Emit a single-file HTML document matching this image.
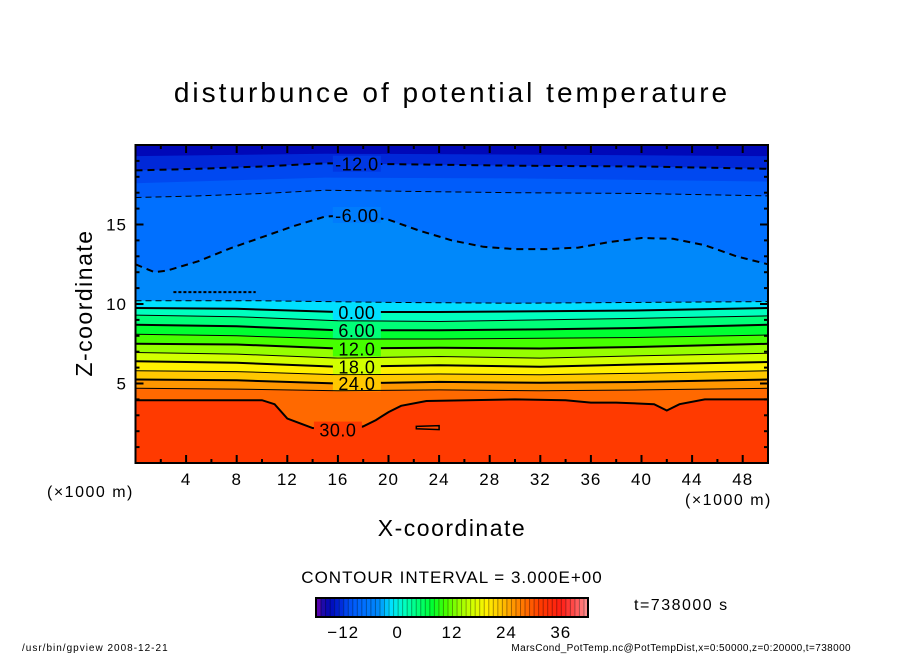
<!DOCTYPE html>
<html><head><meta charset="utf-8">
<style>
html,body{margin:0;padding:0;background:#fff;}
svg{display:block;font-family:"Liberation Sans",sans-serif;}
</style></head>
<body>
<svg id="chart" width="904" height="654" viewBox="0 0 904 654" xmlns="http://www.w3.org/2000/svg">
<text x="452" y="102" font-size="28" text-anchor="middle" letter-spacing="3">disturbunce of potential temperature</text>
<g id="plot"></g>
<g id="axes"></g>
<text transform="translate(92,303) rotate(-90)" font-size="23" text-anchor="middle" letter-spacing="1.5">Z-coordinate</text>
<text x="452" y="536" font-size="23" text-anchor="middle" letter-spacing="1.5">X-coordinate</text>
<text x="47" y="497" font-size="16" letter-spacing="1.5">(×1000 m)</text>
<text x="685" y="505" font-size="16" letter-spacing="1.5">(×1000 m)</text>
<text x="452" y="583" font-size="17" text-anchor="middle" letter-spacing="1">CONTOUR INTERVAL = 3.000E+00</text>
<g id="cbar"></g>
<text x="634" y="610" font-size="16" letter-spacing="1.5">t=738000 s</text>
<text x="22" y="651" font-size="10" letter-spacing="1">/usr/bin/gpview   2008-12-21</text>
<text x="851" y="651" font-size="10" text-anchor="end" letter-spacing="0.4">MarsCond_PotTemp.nc@PotTempDist,x=0:50000,z=0:20000,t=738000</text>
</svg>
<script>
const levels = [-13.5,-12,-10.5,-9,-6,-3,0,3,6,9,12,15,18,21,24,27,30];
const drawn = [false,true,false,true,true,true,true,true,true,true,true,true,true,true,true,true,true];
const cM13 = [[0,19.3],[15,19.45],[30,19.4],[50,19.3]];
const cM12 = [[0,18.4],[5,18.5],[10,18.65],[15,18.85],[20,18.8],[30,18.7],[40,18.65],[50,18.5]];
const cM10 = [[0,17.6],[15,17.95],[30,17.9],[50,17.7]];
const cM9 = [[0,16.7],[5,16.8],[10,16.95],[15,17.15],[20,17.1],[30,17.0],[40,16.95],[50,16.8]];
const cM6 = [[0,12.5],[1.5,12.0],[2.5,12.1],[5,12.7],[7.5,13.5],[10,14.2],[12.5,14.9],[15,15.5],[17.5,15.6],[20,15.3],[22.5,14.6],[25,14.0],[27.5,13.6],[30,13.45],[32.5,13.45],[35,13.55],[37.5,13.9],[40,14.15],[42.5,14.1],[45,13.7],[47.5,13.0],[50,12.5]];
const cM3 = [[0,10.2],[10,10.2],[20,10.1],[30,10.05],[40,10.1],[50,10.15]];
const c0 = [[0,9.75],[8,9.7],[16,9.5],[24,9.5],[32,9.55],[40,9.6],[50,9.75]];
const c3 = [[0,9.3],[8,9.2],[16,8.95],[24,8.9],[32,9.0],[40,9.1],[50,9.25]];
const c6 = [[0,8.7],[8,8.6],[16,8.35],[24,8.35],[32,8.4],[40,8.5],[50,8.7]];
const c9 = [[0,8.1],[8,8.0],[16,7.8],[24,7.8],[32,7.85],[40,7.9],[50,8.05]];
const c12 = [[0,7.5],[8,7.45],[16,7.2],[24,7.25],[32,7.2],[40,7.3],[50,7.5]];
const c15 = [[0,6.95],[8,6.85],[16,6.6],[24,6.7],[32,6.6],[40,6.75],[50,6.9]];
const c18 = [[0,6.4],[8,6.3],[16,6.05],[24,6.15],[32,6.05],[40,6.2],[50,6.35]];
const c21 = [[0,5.8],[8,5.75],[16,5.55],[24,5.6],[32,5.55],[40,5.65],[50,5.8]];
const c24 = [[0,5.25],[8,5.2],[16,5.0],[24,5.1],[32,5.05],[40,5.1],[50,5.25]];
const c27 = [[0,4.7],[8,4.65],[16,4.55],[24,4.6],[32,4.55],[40,4.6],[50,4.7]];
const c30 = [[0,3.95],[10,3.95],[11,3.7],[12,2.8],[13,2.5],[14,2.2],[16,2.1],[17,2.1],[18,2.3],[19,2.7],[20,3.2],[21,3.6],[23,3.9],[30,4.0],[34,3.95],[36,3.8],[38,3.8],[41,3.7],[42,3.3],[43,3.7],[45,4.0],[50,4.0]];
const contours = [cM13,cM12,cM10,cM9,cM6,cM3,c0,c3,c6,c9,c12,c15,c18,c21,c24,c27,c30];
const blob30 = [[22.2,2.3],[24,2.35],[24,2.1],[22.2,2.15]];
const wiggleM3 = [[3,10.75],[9.5,10.75]];
const labelText = [null,"-12.0",null,null,"-6.00",null,"0.00",null,"6.00",null,"12.0",null,"18.0",null,"24.0",null,"30.0"];
const labelX = [null,17.5,null,null,17.5,null,17.5,null,17.5,null,17.5,null,17.5,null,17.5,null,16];
const xTicks = [4,8,12,16,20,24,28,32,36,40,44,48];
const yTicks = [5,10,15];
const cbarTicks = [-12,0,12,24,36];

const NS="http://www.w3.org/2000/svg";
const X0=135.5,X1=768,Y0=463,Y1=145;
const xs=v=>X0+(v/50)*(X1-X0);
const ys=v=>Y0-(v/20)*(Y0-Y1);
const stops=[[-18,[112,0,176]],[-16.5,[30,10,170]],[-15,[0,8,184]],[-12.75,[0,40,216]],[-11.25,[0,72,240]],[-9.75,[0,92,250]],[-7.5,[0,112,255]],[-4.5,[0,136,250]],[-1.5,[0,224,255]],[1.5,[0,255,190]],[4.5,[0,255,120]],[7.5,[0,255,50]],[10.5,[70,255,0]],[13.5,[150,255,0]],[16.5,[210,255,0]],[19.5,[255,240,0]],[22.5,[255,200,0]],[25.5,[255,150,0]],[28.5,[255,105,0]],[31.5,[255,58,0]],[36,[255,30,20]],[39,[255,80,80]],[42,[255,150,150]]];
function col(v){
  if(v<=stops[0][0])return `rgb(${stops[0][1]})`;
  for(let i=1;i<stops.length;i++){if(v<=stops[i][0]){const a=stops[i-1],b=stops[i],t=(v-a[0])/(b[0]-a[0]);return `rgb(${a[1].map((c,k)=>Math.round(c+(b[1][k]-c)*t)).join(',')})`;}}
  return `rgb(${stops[stops.length-1][1]})`;
}
function mk(tag,attrs,parent){const e=document.createElementNS(NS,tag);for(const k in attrs)e.setAttribute(k,attrs[k]);parent.appendChild(e);return e;}
const plot=document.getElementById('plot');
const bg=mk('rect',{x:X0,y:Y1,width:X1-X0,height:Y0-Y1,fill:col(-15)},plot);


const pts=c=>c.map(p=>xs(p[0]).toFixed(1)+','+ys(p[1]).toFixed(1)).join(' ');
levels.forEach((lv,i)=>{
  const next = i+1<levels.length ? levels[i+1] : lv+3;
  const poly=mk('polygon',{points:`${xs(0)},${Y0} `+pts(contours[i])+` ${xs(50)},${Y0}`,fill:col((lv+next)/2)},plot);
  
  
});
const b=mk('polygon',{points:pts(blob30),fill:col(30.5),stroke:'#000','stroke-width':1.5},plot);


const w=mk('polyline',{points:pts(wiggleM3),fill:'none',stroke:'#000','stroke-width':2,'stroke-dasharray':'3 2'},plot);


levels.forEach((lv,i)=>{
  if(!drawn[i])return;
  const major=lv%6===0;
  const attrs={points:pts(contours[i]),fill:'none',stroke:'#000','stroke-width':major?2:1};
  if(lv<0)attrs['stroke-dasharray']=major?'7 5':'6 4';
  const l=mk('polyline',attrs,plot);
  
  
  if(labelText[i]){
    const c=contours[i];const lx=labelX[i];
    let z=c[0][1];for(let k=1;k<c.length;k++){if(c[k][0]>=lx){const a=c[k-1],bb=c[k];z=a[1]+(bb[1]-a[1])*(lx-a[0])/(bb[0]-a[0]);break;}}
    const r=mk('rect',{x:xs(lx)-24,y:ys(z)-8,width:48,height:16,fill:col(lv+(lv>=30?1.5:(lv<0?0:-1.5)))},plot);
    
    
    const t=mk('text',{x:xs(lx),y:ys(z)+7,'font-size':18,'text-anchor':'middle','letter-spacing':0.5},plot);
    t.textContent=labelText[i];
    
    
  }
});
const axes=document.getElementById('axes');
const fr=mk('rect',{x:X0,y:Y1,width:X1-X0,height:Y0-Y1,fill:'none',stroke:'#000','stroke-width':2},axes);


for(let v=2;v<50;v+=2){
  const len=(v%4===0)?8:4;
  mk('line',{x1:xs(v),y1:Y0,x2:xs(v),y2:Y0-len,stroke:'#000','stroke-width':2},axes);
  mk('line',{x1:xs(v),y1:Y1,x2:xs(v),y2:Y1+len,stroke:'#000','stroke-width':2},axes);
}
for(let v=1;v<20;v++){
  const len=(v%5===0)?8:4;
  mk('line',{x1:X0,y1:ys(v),x2:X0+len,y2:ys(v),stroke:'#000','stroke-width':2},axes);
  mk('line',{x1:X1,y1:ys(v),x2:X1-len,y2:ys(v),stroke:'#000','stroke-width':2},axes);
}
xTicks.forEach(v=>{const t=mk('text',{x:xs(v),y:485,'font-size':17,'text-anchor':'middle','letter-spacing':1},axes);t.textContent=v;
  
  });
yTicks.forEach(v=>{const t=mk('text',{x:127,y:ys(v)+6,'font-size':17,'text-anchor':'end','letter-spacing':1},axes);t.textContent=v;
  
  });
const cb=document.getElementById('cbar');
const CX0=316,CX1=588,CY=598,CH=19,VMIN=-18,VMAX=42;
const cx=v=>CX0+(v-VMIN)/(VMAX-VMIN)*(CX1-CX0);
for(let v=VMIN;v<VMAX;v++){
  mk('rect',{x:cx(v),y:CY,width:cx(v+1)-cx(v)+0.3,height:CH,fill:col(v+0.5)},cb);
  mk('line',{x1:cx(v)+0.5,y1:CY,x2:cx(v)+0.5,y2:CY+CH,stroke:'rgba(0,0,0,0.35)','stroke-width':1},cb);
}
mk('rect',{x:CX0,y:CY,width:CX1-CX0,height:CH,fill:'none',stroke:'#000','stroke-width':2},cb);
cbarTicks.forEach(v=>{const t=mk('text',{x:cx(v),y:638,'font-size':17,'text-anchor':'middle','letter-spacing':1},cb);t.textContent=v<0?'−'+(-v):v;
  
  });
</script>
</body></html>
